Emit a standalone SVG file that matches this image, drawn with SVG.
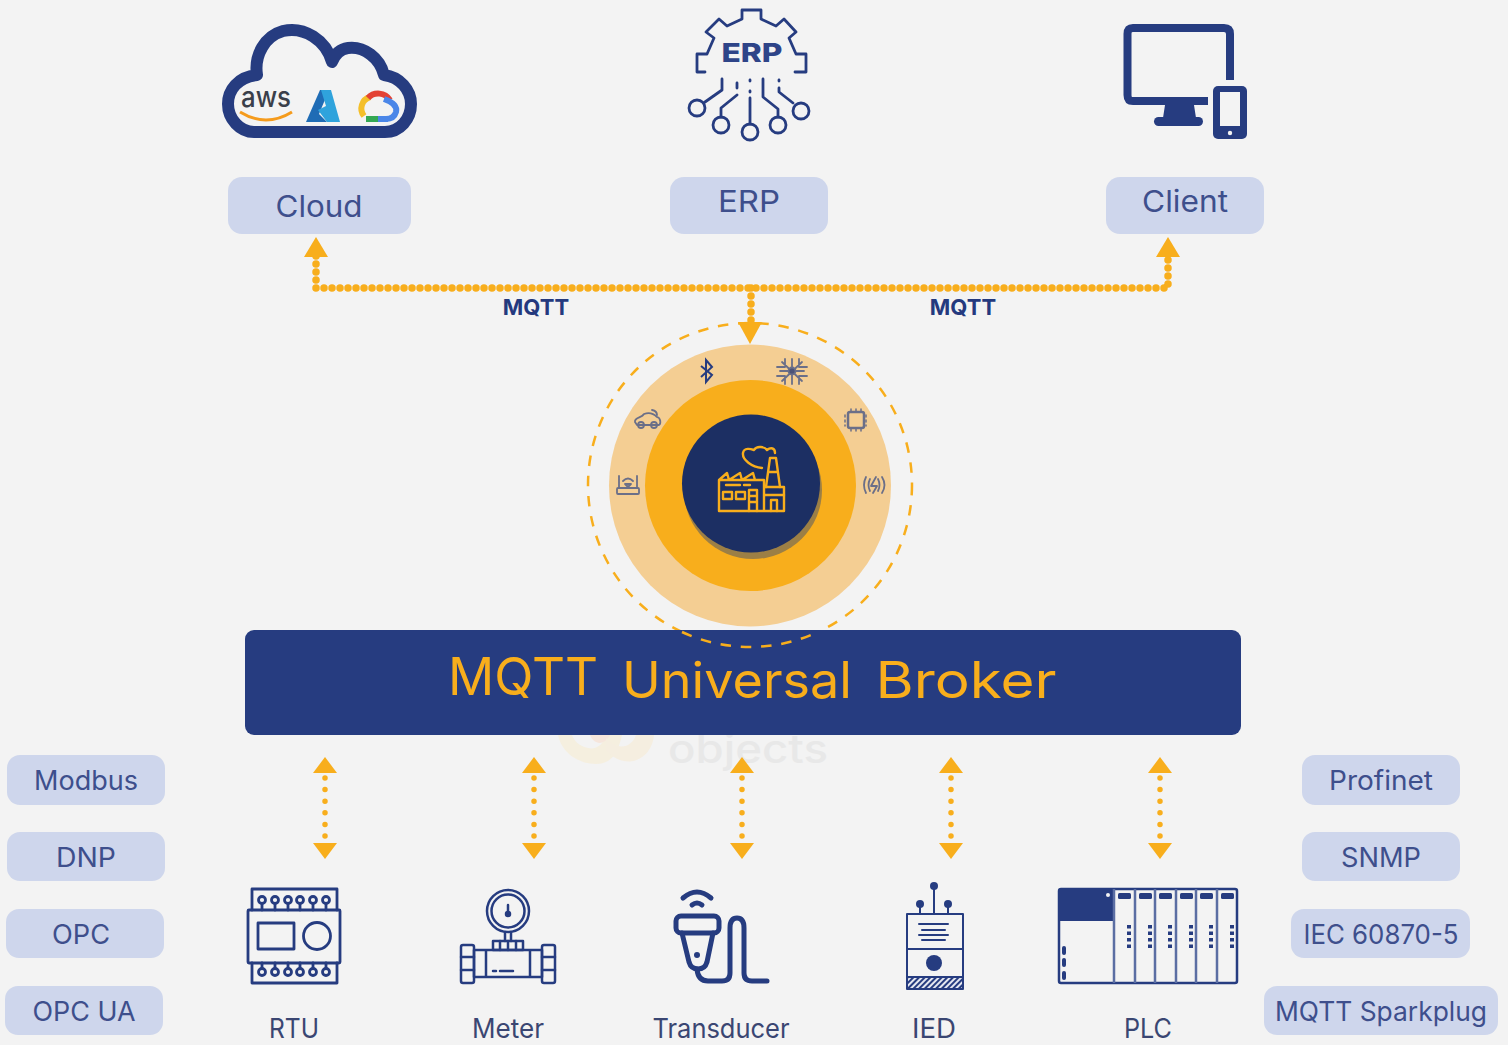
<svg xmlns="http://www.w3.org/2000/svg" width="1508" height="1045" viewBox="0 0 1508 1045">
<defs>
<pattern id="hatch" width="4" height="4" patternUnits="userSpaceOnUse" patternTransform="rotate(45)"><rect width="4" height="4" fill="#e4e7f0"/><rect width="2" height="4" fill="#263c80"/></pattern>
</defs>
<style>
text{font-family:"Inter","Noto Sans","Liberation Sans",sans-serif}
.pill{fill:#ced6ec}
.pl{fill:#3e4f8c;font-size:27px;text-anchor:middle}
.bl{fill:#3a4672;font-size:27px;text-anchor:middle}
.mq{fill:#24397e;font-size:22px;font-weight:700;text-anchor:middle}
.ic{fill:none;stroke:#263c80;stroke-linecap:round;stroke-linejoin:round}
.d{fill:none;stroke:#f8ae1c;stroke-width:7.500;stroke-linecap:round;stroke-dasharray:0 8}
.s{fill:none;stroke:#f8ae1c;stroke-width:5.500;stroke-linecap:round;stroke-dasharray:0 11.600}
.a{fill:#f8ae1c}
.g{fill:none;stroke:#6b6f88;stroke-width:1.800;stroke-linecap:round;stroke-linejoin:round}
.f{fill:none;stroke:#f8ae1c;stroke-width:2.400;stroke-linejoin:round;stroke-linecap:round}
</style>
<rect width="1508" height="1045" fill="#f3f3f3"/>
<g id="watermark">
<path d="M558 735C562 754 580 764 596 764C612 764 618 752 622 735L606 735C604 744 596 750 588 748C578 746 574 740 572 735Z" fill="#f5efdf"/>
<path d="M590 735C594 745 604 746 610 735Z" fill="#f6e6dc"/>
<path d="M606 750C625 772 652 760 654 735L636 735C632 747 618 752 606 738Z" fill="#f5eee0"/>
<text x="748" y="763" font-size="39" font-weight="500" fill="#e8e8e8" text-anchor="middle" textLength="160" lengthAdjust="spacingAndGlyphs">objects</text>
</g>
<g id="connectors">
<path class="d" d="M316 256V288H1168V256"/>
<path class="d" d="M751 288V324"/>
<path class="a" d="M316 237L328 257H304Z"/><path class="a" d="M1168 237L1180 257H1156Z"/><path class="a" d="M750 344L738 322H762Z"/>
<g id="arrow-rtu"><path class="s" d="M325 778V838"/><path class="a" d="M325 757L337 773H313Z"/><path class="a" d="M325 859L313 843H337Z"/></g>
<g id="arrow-meter"><path class="s" d="M534 778V838"/><path class="a" d="M534 757L546 773H522Z"/><path class="a" d="M534 859L522 843H546Z"/></g>
<g id="arrow-transducer"><path class="s" d="M742 778V838"/><path class="a" d="M742 757L754 773H730Z"/><path class="a" d="M742 859L730 843H754Z"/></g>
<g id="arrow-ied"><path class="s" d="M951 778V838"/><path class="a" d="M951 757L963 773H939Z"/><path class="a" d="M951 859L939 843H963Z"/></g>
<g id="arrow-plc"><path class="s" d="M1160 778V838"/><path class="a" d="M1160 757L1172 773H1148Z"/><path class="a" d="M1160 859L1148 843H1172Z"/></g>
<text class="mq" x="536" y="315">MQTT</text>
<text class="mq" x="963" y="315">MQTT</text>
</g>
<g id="cloud">
<path d="M254 132H385C400 132 411 119 411 104C411 90 400 77 384 75C380 58 364 46 348 48C341 49 335 54 332 62C326 40 304 26 283 31C265 36 254 55 257 75C238 77 228 90 228 104C228 119 240 132 254 132Z" fill="none" stroke="#263c80" stroke-width="12" stroke-linejoin="round"/>
<text x="266" y="107" font-size="29" font-weight="500" fill="#3a3f4a" text-anchor="middle" textLength="50" lengthAdjust="spacingAndGlyphs">aws</text>
<path d="M240 112Q266 128 292 112" fill="none" stroke="#f59b1c" stroke-width="3"/>
<path d="M306 122L320 90H329L319 114L327 122Z" fill="#1f6cb5"/><path d="M321 90H331L340 122H327L318 110L326 106Z" fill="#2fa3dc"/>
<path d="M364 116A12 12 0 0 1 370 97" fill="none" stroke="#f4bf2a" stroke-width="6"/>
<path d="M368 98A14 14 0 0 1 390 100" fill="none" stroke="#e34234" stroke-width="6"/>
<path d="M384 99Q398 104 396 112Q394 119 386 119" fill="none" stroke="#4a86e8" stroke-width="6"/>
<path d="M366 119H378" fill="none" stroke="#34a853" stroke-width="6"/><path d="M378 119H388" fill="none" stroke="#4a86e8" stroke-width="6"/>
</g>
<g id="erp">
<path class="ic" stroke-width="2.800" d="M705 72H697V54H707L714 38L706 32L719 19L727 26L742 19V10H761V19L776 26L784 19L796 32L789 38L796 54H806V72H795"/>
<text x="752" y="62" font-size="26" font-weight="800" fill="#2e4488" text-anchor="middle" textLength="61" lengthAdjust="spacingAndGlyphs">ERP</text>
<g class="ic" stroke-width="2.800">
<circle cx="697" cy="108" r="8"/><circle cx="721" cy="125" r="8"/><circle cx="750" cy="132" r="8"/><circle cx="778" cy="125" r="8"/><circle cx="801" cy="111" r="8"/>
<path d="M722 79V90L705 102M737 83V88M737 95L721 108V117M750 98V124M763 79V97L778 109V117M779 88V92L793 103"/>
<path d="M750 80V81M750 91V92M779 80V81"/>
</g>
</g>
<g id="client">
<path d="M1230 80V34Q1230 28 1224 28H1133Q1127.500 28 1127.500 34V95Q1127.500 101 1133 101H1208" fill="none" stroke="#263c80" stroke-width="8" stroke-linecap="butt"/>
<path d="M1165 105H1194L1196 118H1163Z" fill="#263c80"/><rect x="1154" y="117" width="49" height="9" rx="4.500" fill="#263c80"/>
<rect x="1213" y="86" width="34" height="53" rx="5" fill="#263c80"/><rect x="1220" y="92" width="20" height="34" fill="#f3f3f3"/><circle cx="1230" cy="133" r="2.200" fill="#f3f3f3"/>
</g>
<g id="label-cloud"><rect class="pill" x="228" y="177" width="183" height="57" rx="14"/><text class="pl" x="319" y="217" style="font-size:30px" textLength="87" lengthAdjust="spacingAndGlyphs">Cloud</text></g>
<g id="label-erp"><rect class="pill" x="670" y="177" width="158" height="57" rx="14"/><text class="pl" x="749" y="212" style="font-size:30px" textLength="62" lengthAdjust="spacingAndGlyphs">ERP</text></g>
<g id="label-client"><rect class="pill" x="1106" y="177" width="158" height="57" rx="14"/><text class="pl" x="1185" y="212" style="font-size:30px" textLength="86" lengthAdjust="spacingAndGlyphs">Client</text></g>
<g id="hub">
<circle cx="750" cy="485.500" r="141" fill="#f4ce93"/>
<circle cx="750.500" cy="485.500" r="105.500" fill="#f8ae1c"/>
<circle cx="753" cy="490" r="69" fill="#9c7f45"/>
<circle cx="751" cy="483.500" r="69" fill="#1c2f63"/>
<g class="f">
<path d="M719 511V480L727 473L729 480L740 473L742 480L753 473L755 480H764M719 480H764V511M719 511H784V487H764"/>
<path d="M766 487L770 458H776L780 487M768 472H778M726 485H740M744 485H750"/>
<rect x="723" y="492" width="9" height="7"/><rect x="736" y="492" width="9" height="7"/>
<path d="M749 490H757V511M749 490V511H749M749 496H757M749 502H757"/>
<path d="M765 495H784M771 511V500H777V511"/>
<path d="M762 468C752 467 742 460 743 453C744 447 751 449 754 450C757 445 765 447 767 450C771 447 775 448 775 453"/>
</g>
<g id="icons">
<path d="M701 366L712 375L706 382V360L712 367L701 377" fill="none" stroke="#263c80" stroke-width="2"/>
<g class="g"><path d="M782 362L802 381M802 362L782 381M792 359V384M780 371H804M785 359L785 367L777 367M799 359V367H807M785 384V376H777M799 384V376H807"/><circle cx="792" cy="371" r="3.500" fill="#4c5378"/></g>
<g class="g" style="stroke-width:2.500"><rect x="848" y="412" width="16" height="16" rx="2"/><path style="stroke-width:1.500" d="M851 409V411M856 409V411M861 409V411M851 429V431M856 429V431M861 429V431M845 415V417M845 420V422M845 425V426M866 415V417M866 420V422M866 425V426"/></g>
<g class="g"><path d="M635 422C634 417 642 418 644 414C649 412 654 414 657 417C661 418 661 424 659 425H637Z"/><circle cx="641" cy="425" r="3"/><circle cx="654" cy="425" r="3"/><path d="M652 410Q657 411 657 415"/></g>
<g class="g"><rect x="617" y="488" width="22" height="6" rx="1"/><path d="M619 488V476M637 488V476M623 481Q628 476 633 481M625 484L628 487L631 484Z"/></g>
<g class="g"><path d="M866 477Q862 485 866 493M870 479Q867 485 870 491M882 477Q887 485 882 493M878 479Q881 485 878 491M876 477L871 486H877L873 493" /></g>
</g>
<circle cx="750" cy="485" r="162" fill="none" stroke="#f8ae1c" stroke-width="2.500" stroke-dasharray="10.500 9.800"/>
</g>
<g id="broker">
<rect x="245" y="630" width="996" height="105" rx="9" fill="#263c80"/>
<text x="523" y="695" font-size="52" fill="#f8ae1c" text-anchor="middle" textLength="150" lengthAdjust="spacingAndGlyphs">MQTT</text>
<text x="737" y="698" font-size="50" fill="#f8ae1c" text-anchor="middle" textLength="230" lengthAdjust="spacingAndGlyphs">Universal</text>
<text x="966" y="698" font-size="50" fill="#f8ae1c" text-anchor="middle" textLength="181" lengthAdjust="spacingAndGlyphs">Broker</text>
</g>
<g id="proto-modbus"><rect class="pill" x="7" y="755" width="158" height="50" rx="13"/><text class="pl" x="86" y="790" textLength="104" lengthAdjust="spacingAndGlyphs">Modbus</text></g>
<g id="proto-dnp"><rect class="pill" x="7" y="832" width="158" height="49" rx="13"/><text class="pl" x="86" y="867" textLength="60" lengthAdjust="spacingAndGlyphs">DNP</text></g>
<g id="proto-opc"><rect class="pill" x="6" y="909" width="158" height="49" rx="13"/><text class="pl" x="81" y="944" textLength="58" lengthAdjust="spacingAndGlyphs">OPC</text></g>
<g id="proto-opcua"><rect class="pill" x="5" y="986" width="158" height="49" rx="13"/><text class="pl" x="84" y="1021" textLength="103" lengthAdjust="spacingAndGlyphs">OPC UA</text></g>
<g id="proto-profinet"><rect class="pill" x="1302" y="755" width="158" height="50" rx="13"/><text class="pl" x="1381" y="790" textLength="104" lengthAdjust="spacingAndGlyphs">Profinet</text></g>
<g id="proto-snmp"><rect class="pill" x="1302" y="832" width="158" height="49" rx="13"/><text class="pl" x="1381" y="867" textLength="80" lengthAdjust="spacingAndGlyphs">SNMP</text></g>
<g id="proto-iec"><rect class="pill" x="1291" y="909" width="179" height="49" rx="13"/><text class="pl" x="1381" y="944" textLength="155" lengthAdjust="spacingAndGlyphs">IEC 60870-5</text></g>
<g id="proto-sparkplug"><rect class="pill" x="1264" y="986" width="234" height="49" rx="13"/><text class="pl" x="1381" y="1021" textLength="212" lengthAdjust="spacingAndGlyphs">MQTT Sparkplug</text></g>
<g id="rtu">
<g class="ic" stroke-width="2.800">
<path d="M252 910V889H337V910M252 963V983H337V963"/>
<rect x="248" y="910" width="92" height="53" rx="1"/>
<rect x="258" y="923" width="36" height="26"/><circle cx="317" cy="936" r="13.500"/>
<path d="M262 904V910M275 904V910M288 904V910M300 904V910M313 904V910M326 904V910M262 963V968M275 963V968M288 963V968M300 963V968M313 963V968M326 963V968"/>
<circle cx="262" cy="900" r="3.500"/><circle cx="275" cy="900" r="3.500"/><circle cx="288" cy="900" r="3.500"/><circle cx="300" cy="900" r="3.500"/><circle cx="313" cy="900" r="3.500"/><circle cx="326" cy="900" r="3.500"/>
<circle cx="262" cy="972" r="3.500"/><circle cx="275" cy="972" r="3.500"/><circle cx="288" cy="972" r="3.500"/><circle cx="300" cy="972" r="3.500"/><circle cx="313" cy="972" r="3.500"/><circle cx="326" cy="972" r="3.500"/>
</g>
<text class="bl" x="294" y="1038" textLength="50" lengthAdjust="spacingAndGlyphs">RTU</text>
</g>
<g id="meter">
<g class="ic" stroke-width="2.500">
<circle cx="508" cy="911" r="21"/><circle cx="508" cy="911" r="16.500"/>
<path d="M508 905V913M505 932V941M511 932V941"/><circle cx="508" cy="914" r="2" fill="#263c80"/>
<rect x="493" y="941" width="30" height="9"/><path d="M500 941V950M508 941V950M516 941V950"/>
<path d="M474 950H542V977H474ZM486 950V977M530 950V977M493 971H496M500 971H513"/>
<rect x="461" y="945" width="13" height="38" rx="2"/><rect x="542" y="945" width="13" height="38" rx="2"/>
<path d="M461 957H474M461 970H474M542 957H555M542 970H555"/>
</g>
<text class="bl" x="508" y="1038" textLength="72" lengthAdjust="spacingAndGlyphs">Meter</text>
</g>
<g id="transducer">
<g class="ic" stroke-width="5">
<path d="M683 898Q697 886 711 898M692 905Q697 901 702 905"/>
<rect x="676" y="916" width="43" height="17" rx="5"/>
<path d="M682 933L689 962Q691 969 698 969Q705 969 707 962L713 933"/>
<path d="M697 969Q698 981 708 981H722Q730 981 730 973V928Q730 918 737 918Q744 918 744 928V973Q744 981 752 981H767"/>
</g>
<circle cx="697" cy="955" r="3" fill="#263c80"/>
<text class="bl" x="721" y="1038" textLength="137" lengthAdjust="spacingAndGlyphs">Transducer</text>
</g>
<g id="ied">
<rect x="907" y="977" width="56" height="12" fill="url(#hatch)"/>
<g class="ic" stroke-width="2">
<rect x="907" y="914" width="56" height="75"/>
<path d="M907 949H963M907 977H963" /><path d="M919 924H948M922 930H945M919 935H948M922 940H945"/>
<path d="M934 914V887M920 914V904M948 914V904"/>
</g>
<circle cx="934" cy="886" r="4" fill="#263c80"/><circle cx="920" cy="904" r="4" fill="#263c80"/><circle cx="948" cy="904" r="4" fill="#263c80"/><circle cx="934" cy="963" r="8" fill="#263c80"/>
<text class="bl" x="934" y="1038" textLength="44" lengthAdjust="spacingAndGlyphs">IED</text>
</g>
<g id="plc">
<rect x="1059" y="889" width="178" height="94" rx="2" fill="none" stroke="#263c80" stroke-width="2.500"/>
<rect x="1059" y="889" width="55" height="32" fill="#263c80"/><circle cx="1108" cy="895" r="2" fill="#f3f3f3"/>
<path d="M1114 889V983M1135 889V983M1155 889V983M1176 889V983M1196 889V983M1217 889V983" stroke="#5b6ea3" stroke-width="2.500" fill="none"/>
<g fill="#263c80">
<rect x="1118" y="893" width="13" height="6" rx="1.500"/><rect x="1139" y="893" width="13" height="6" rx="1.500"/><rect x="1159" y="893" width="13" height="6" rx="1.500"/><rect x="1180" y="893" width="13" height="6" rx="1.500"/><rect x="1200" y="893" width="13" height="6" rx="1.500"/><rect x="1221" y="893" width="13" height="6" rx="1.500"/>
<rect x="1062" y="946" width="4" height="9" rx="2"/><rect x="1062" y="958" width="4" height="9" rx="2"/><rect x="1062" y="971" width="4" height="9" rx="2"/>
</g>
<path d="M1129 925V948M1150 925V948M1170 925V948M1191 925V948M1211 925V948M1232 925V948" stroke="#263c80" stroke-width="4" stroke-dasharray="3.500 3" fill="none"/>
<text class="bl" x="1148" y="1038" textLength="48" lengthAdjust="spacingAndGlyphs">PLC</text>
</g>
<path id="ring-over-broker" fill="none" stroke="#f8ae1c" stroke-width="2.500" stroke-dasharray="10.500 9.800" d="M682 632A162 162 0 0 0 818 632"/>
</svg>
